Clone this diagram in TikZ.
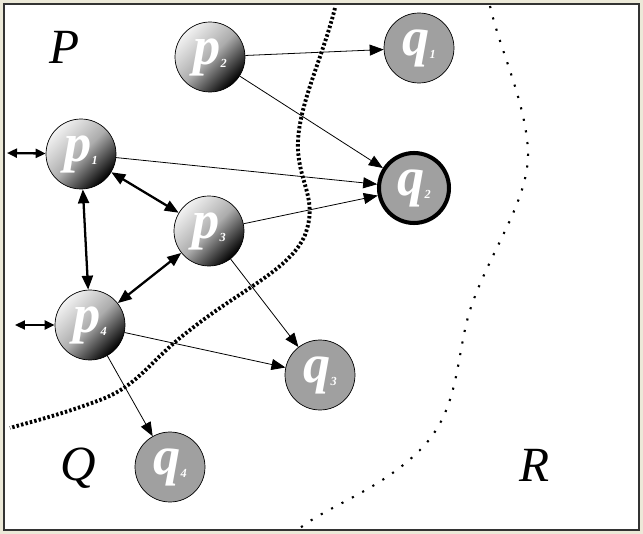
\documentclass[tikz,border=0pt]{standalone}
\usepackage{fontspec}
\setmainfont{Liberation Serif}
\usetikzlibrary{arrows.meta}
\definecolor{frame}{HTML}{ECE9D8}
\definecolor{qfill}{HTML}{A0A0A0}
\begin{document}
\begin{tikzpicture}[x=0.02cm,y=-0.02cm,
  pnode/.style={circle,draw=black,line width=0.4pt,minimum size=1.4cm,inner sep=0pt,
    shading=axis,top color=gray!10,bottom color=black,middle color=gray!65,shading angle=45,
    text=white,font=\fontsize{31}{32}\selectfont\bfseries\itshape},
  qnode/.style={circle,draw=black,line width=0.4pt,minimum size=1.4cm,inner sep=0pt,fill=qfill,
    text=white,font=\fontsize{31}{32}\selectfont\bfseries\itshape},
  region/.style={font=\fontsize{28}{30}\selectfont\itshape},
  thin arrow/.style={-{Triangle[length=0.28cm,width=0.22cm]},line width=0.45pt},
  thick arrow/.style={{Triangle[length=0.28cm,width=0.22cm]}-{Triangle[length=0.28cm,width=0.22cm]},line width=1.3pt},
  small arrow/.style={{Triangle[length=0.2cm,width=0.18cm]}-{Triangle[length=0.2cm,width=0.18cm]},line width=1.3pt}
]
\fill[frame] (0,0) rectangle (643,534);
\draw[fill=white,draw=black!80,line width=0.6pt] (4,4) rectangle (639,530);
\useasboundingbox (0,0) rectangle (643,534);

% region boundaries
\draw[line width=2.2pt,dash pattern=on 1.4pt off 1.2pt]
  (335,8) .. controls (322,60) and (296,110) .. (298,150)
  .. controls (300,185) and (318,200) .. (305,235)
  .. controls (290,270) and (240,290) .. (190,330)
  .. controls (150,360) and (140,385) .. (100,400)
  .. controls (60,415) and (30,422) .. (10,428);
\draw[line width=1.2pt,dash pattern=on 1.2pt off 5.5pt]
  (490,6) .. controls (500,50) and (525,100) .. (528,150)
  .. controls (530,200) and (490,250) .. (470,310)
  .. controls (455,360) and (460,410) .. (420,450)
  .. controls (380,490) and (330,505) .. (300,528);

% labels
\node[region] (P) at (65,47) {P};
\node[region] (Q) at (78,468) {Q};
\node[region] (R) at (535,465) {R};

% nodes
\node[pnode] (p2) at (210,57) {p\raisebox{-2pt}{\fontsize{7}{8}\selectfont 2}};
\node[pnode] (p1) at (81,154) {p\raisebox{-2pt}{\fontsize{7}{8}\selectfont 1}};
\node[pnode] (p3) at (209,231) {p\raisebox{-2pt}{\fontsize{7}{8}\selectfont 3}};
\node[pnode] (p4) at (90,325) {p\raisebox{-2pt}{\fontsize{7}{8}\selectfont 4}};
\node[qnode] (q1) at (419,48) {q\raisebox{-2pt}{\fontsize{7}{8}\selectfont 1}};
\node[qnode,line width=2.3pt] (q2) at (414,188) {q\raisebox{-2pt}{\fontsize{7}{8}\selectfont 2}};
\node[qnode] (q3) at (320,375) {q\raisebox{-2pt}{\fontsize{7}{8}\selectfont 3}};
\node[qnode] (q4) at (170,467) {q\raisebox{-2pt}{\fontsize{7}{8}\selectfont 4}};

\coordinate (l1) at (7,153);
\coordinate (l4) at (15,325);

% connectors
\draw[thin arrow] (p2) -- (q1);
\draw[thin arrow] (p2) -- (q2);
\draw[thin arrow] (p1) -- (q2);
\draw[thin arrow] (p3) -- (q2);
\draw[thin arrow] (p3) -- (q3);
\draw[thin arrow] (p4) -- (q3);
\draw[thin arrow] (p4) -- (q4);
\draw[thick arrow] (p1) -- (p3);
\draw[thick arrow] (p1) -- (p4);
\draw[thick arrow] (p3) -- (p4);
\draw[small arrow] (l1) -- (p1);
\draw[small arrow] (l4) -- (p4);
\end{tikzpicture}
\end{document}
